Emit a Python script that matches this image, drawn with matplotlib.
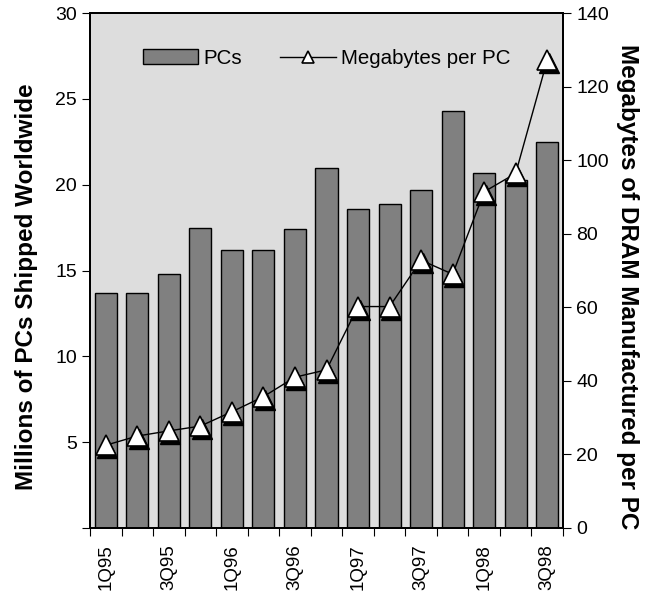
import matplotlib
matplotlib.use("Agg")
import matplotlib.pyplot as plt
import matplotlib.transforms as mtransforms
import numpy as np

plt.rcParams["font.family"] = ["Liberation Sans", "DejaVu Sans"]

# datos
trimestres = ["1Q95", "2Q95", "3Q95", "4Q95", "1Q96", "2Q96", "3Q96", "4Q96",
              "1Q97", "2Q97", "3Q97", "4Q97", "1Q98", "2Q98", "3Q98"]
pcs = [13.7, 13.7, 14.8, 17.5, 16.2, 16.2, 17.4, 21.0,
       18.6, 18.9, 19.7, 24.3, 20.7, 20.3, 22.5]
mb_por_pc = [22.5, 25, 26.4, 27.7, 31.6, 35.7, 41, 43,
             60.2, 60.2, 72.8, 69, 91.4, 96.4, 127.2]

x = np.arange(len(trimestres))

fig = plt.figure(figsize=(6.6, 5.99), dpi=100)
ax = fig.add_axes([90 / 660, 1 - 528 / 599, 473 / 660, 515 / 599])
ax.set_facecolor("#dddddd")

ax.bar(x, pcs, width=0.7, color="#808080", edgecolor="black", linewidth=1,
       label="PCs", zorder=2)
ax.set_xlim(-0.5, len(trimestres) - 0.5)
ax.set_ylim(0, 30)
ax.set_yticks([0, 5, 10, 15, 20, 25, 30])
ax.set_yticklabels(["", "5", "10", "15", "20", "25", "30"])
ax.set_ylabel("Millions of PCs Shipped Worldwide", fontsize=17.5,
              fontweight="bold", labelpad=12)
ax.yaxis.label.set_y(0.468)

# marcas entre categorías, etiquetas cada dos trimestres
ax.set_xticks(np.arange(-0.5, len(trimestres), 1))
ax.set_xticklabels([])
ax.set_xticks(x[::2], minor=True)
ax.set_xticklabels([trimestres[i] for i in x[::2]], minor=True, rotation=90)
ax.tick_params(axis="x", which="minor", length=0, pad=12, labelsize=13.5)
ax.tick_params(axis="x", which="major", length=6, direction="out")
ax.tick_params(axis="y", length=6, direction="out", labelsize=14)

ax2 = ax.twinx()
ax2.set_ylim(0, 140)
ax2.set_yticks(np.arange(0, 141, 20))
ax2.tick_params(axis="y", length=6, direction="out", labelsize=14)
ax2.set_ylabel("Megabytes of DRAM Manufactured per PC", fontsize=17.5,
               fontweight="bold", rotation=270, labelpad=22)
ax2.yaxis.label.set_y(0.468)

# sombra negra de los triángulos
sombra = mtransforms.offset_copy(ax2.transData, fig=fig, x=1.5, y=-3, units="dots")
ax2.plot(x, mb_por_pc, linestyle="none", marker="^", markersize=15,
         color="black", transform=sombra, zorder=3)
ax2.plot(x, mb_por_pc, color="black", linewidth=1, marker="^", markersize=15,
         markerfacecolor="white", markeredgecolor="black", markeredgewidth=1.2,
         label="Megabytes per PC", zorder=4)

for a in (ax, ax2):
    for s in a.spines.values():
        s.set_linewidth(1.4)

h1, l1 = ax.get_legend_handles_labels()
h2, l2 = ax2.get_legend_handles_labels()
ax2.legend(h1 + h2, l1 + l2, loc="center", ncol=2, frameon=False,
           fontsize=14.8, bbox_to_anchor=(0.5, 0.912), handlelength=2.7,
           columnspacing=1.85, handletextpad=0.26, markerscale=0.6)

plt.savefig("out.png", dpi=100)
plt.close()
